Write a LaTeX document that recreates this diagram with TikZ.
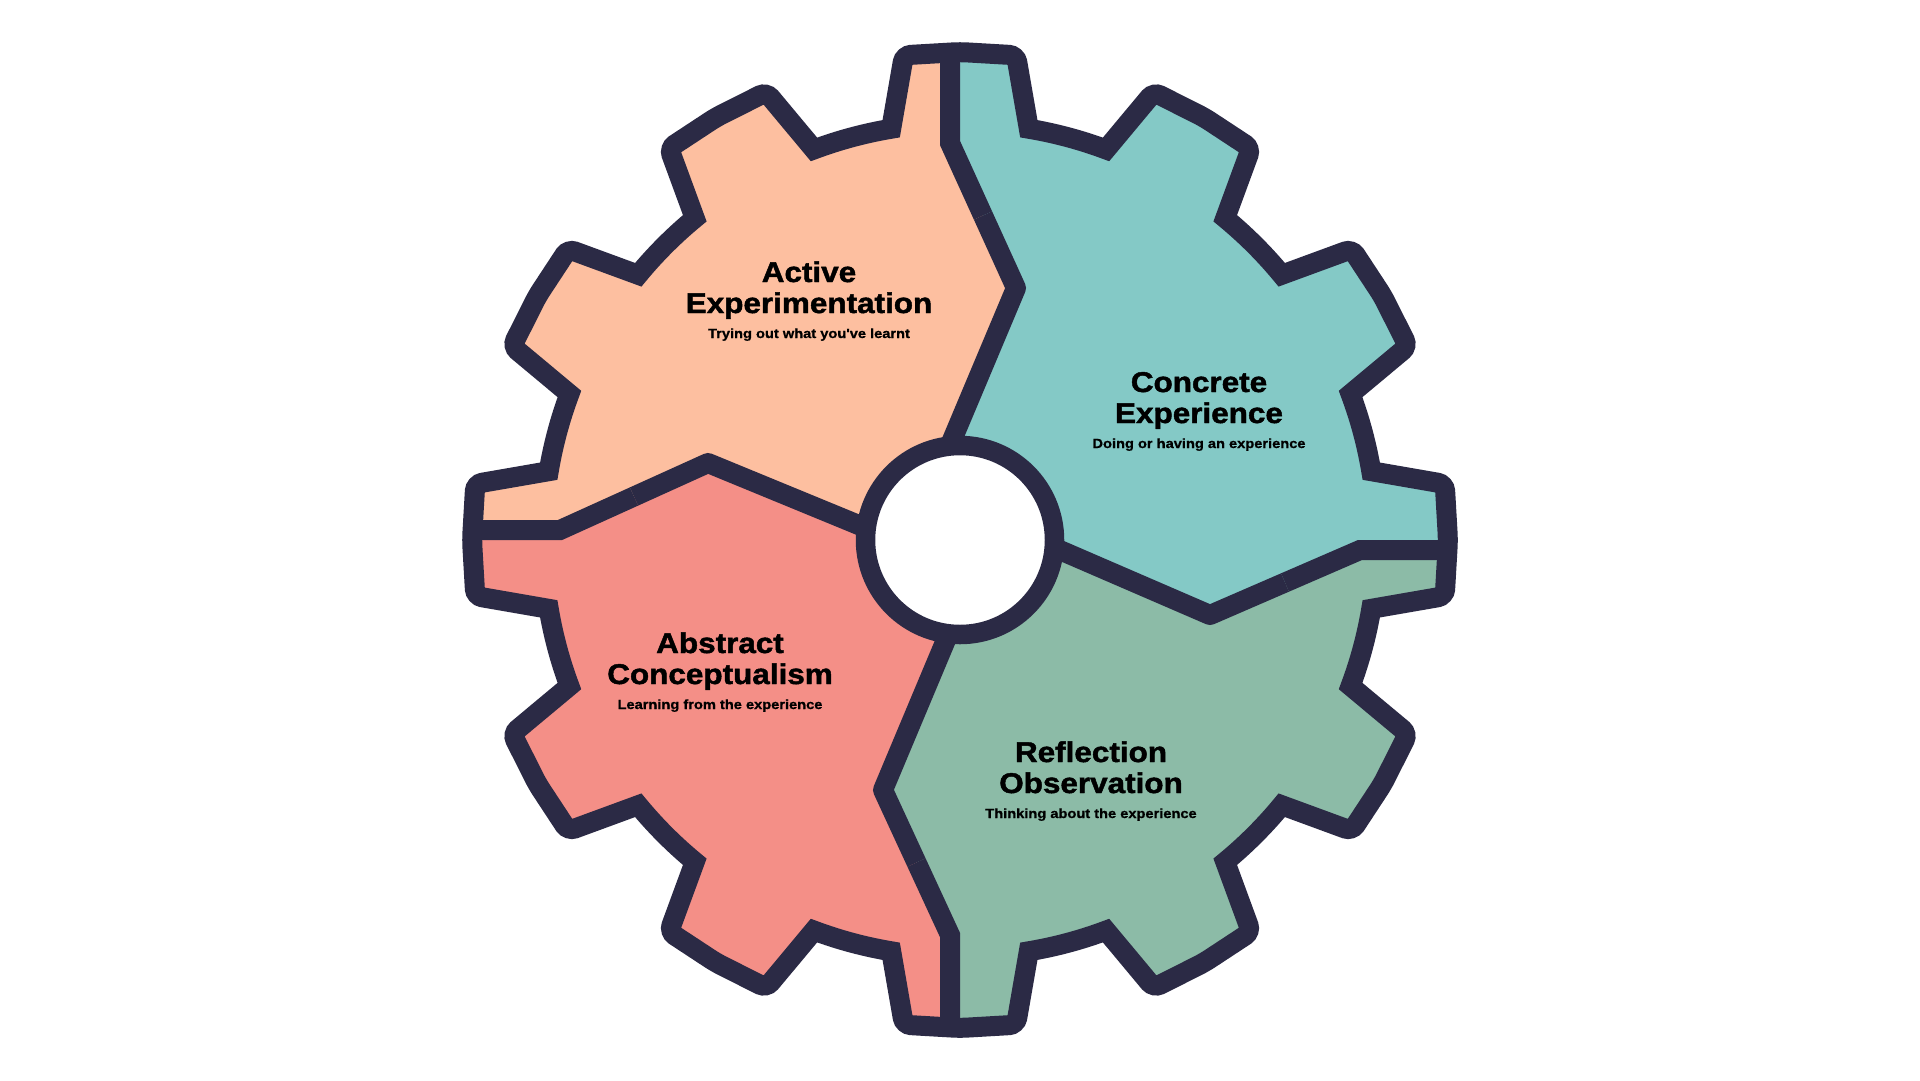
\documentclass[tikz,border=0pt]{standalone}
\usepackage{fontspec}
\newfontfamily\gfont[FakeStretch=1.1, BoldFeatures={FakeBold=1.6}]{Liberation Sans}
\newfontfamily\gsub[FakeStretch=1.1, BoldFeatures={FakeBold=0.8}]{Liberation Sans}
\definecolor{cNavy}{HTML}{2B2A45}
\definecolor{cPeach}{HTML}{FDBFA0}
\definecolor{cTeal}{HTML}{84C9C6}
\definecolor{cSage}{HTML}{8CBBA7}
\definecolor{cSalmon}{HTML}{F48F87}
\tikzset{
  outl/.style={draw=cNavy, line width=20pt},
  divA/.style={draw=cNavy, line width=20pt, line join=miter},
  divB/.style={draw=cNavy, line width=20pt, line join=round},
  ttl/.style={anchor=base, inner sep=0pt, font=\gfont\bfseries\fontsize{28.6}{31}\selectfont, text=black},
  subt/.style={anchor=base, inner sep=0pt, font=\gsub\bfseries\fontsize{13.3}{15}\selectfont, text=black},
}
\def\gearpath{(-9.5:417) \foreach \a in {0,30,...,330}{ [rounded corners=7pt] -- ({\a-6.6}:488) -- (\a:488) -- ({\a+6.6}:488) [sharp corners] -- ({\a+9.5}:417) arc[start angle={\a+9.5}, end angle={\a+20.5}, radius=417]} -- cycle}
\begin{document}
\begin{tikzpicture}[x=1pt, y=-1pt]
\useasboundingbox (0,0) rectangle (1920,1080);
\fill[white] (0,0) rectangle (1920,1080);
% divider points
\coordinate (c) at (960,540);
\coordinate (t0) at (950,52);  \coordinate (t1) at (950,143); \coordinate (tm) at (983,215.5); \coordinate (t2) at (1016,288); \coordinate (t3) at (950,445);
\coordinate (r0) at (1448,550); \coordinate (r1) at (1360,550); \coordinate (rm) at (1285,582.5); \coordinate (r2) at (1210,615); \coordinate (r3) at (1055,548);
\coordinate (b0) at (950,1028); \coordinate (b1) at (950,935); \coordinate (bm) at (916.5,862.5); \coordinate (b2) at (883,790); \coordinate (b3) at (948,635);
\coordinate (l0) at (472,530); \coordinate (l1) at (560,530); \coordinate (lm) at (634,496.5); \coordinate (l2) at (708,463); \coordinate (l3) at (866,528);
% coloured quarters
\begin{scope}
  \clip[shift={(960,540)}] \gearpath;
  \fill[cPeach] (950,0) -- (t1) -- (t2) -- (t3) -- (c) -- (l3) -- (l2) -- (l1) -- (0,530) -- (0,0) -- cycle;
  \fill[cTeal] (950,0) -- (t1) -- (t2) -- (t3) -- (c) -- (r3) -- (r2) -- (r1) -- (1920,550) -- (1920,0) -- cycle;
  \fill[cSage] (1920,550) -- (r1) -- (r2) -- (r3) -- (c) -- (b3) -- (b2) -- (b1) -- (950,1080) -- (1920,1080) -- cycle;
  \fill[cSalmon] (950,1080) -- (b1) -- (b2) -- (b3) -- (c) -- (l3) -- (l2) -- (l1) -- (0,530) -- (0,1080) -- cycle;
\end{scope}
% dividers
\draw[divA] (t0) -- (t1) -- (tm);
\draw[divB] (tm) -- (t2) -- (t3);
\draw[divA] (r0) -- (r1) -- (rm);
\draw[divB] (rm) -- (r2) -- (r3);
\draw[divA] (b0) -- (b1) -- (bm);
\draw[divB] (bm) -- (b2) -- (b3);
\draw[divA] (l0) -- (l1) -- (lm);
\draw[divB] (lm) -- (l2) -- (l3);
% gear outline
\draw[outl, shift={(960,540)}] \gearpath;
% hub
\node[circle, draw=cNavy, line width=19.5pt, fill=white, minimum size=189pt, inner sep=0pt] (hub) at (c) {};
% labels
\node[ttl] (ae1) at (809,282) {Active};
\node[ttl] (ae2) at (809,313) {Experimentation};
\node[subt] (ae3) at (809,338) {Trying out what you've learnt};
\node[ttl] (ce1) at (1199,392) {Concrete};
\node[ttl] (ce2) at (1199,423) {Experience};
\node[subt] (ce3) at (1199,448) {Doing or having an experience};
\node[ttl] (ac1) at (720,653) {Abstract};
\node[ttl] (ac2) at (720,684) {Conceptualism};
\node[subt] (ac3) at (720,709) {Learning from the experience};
\node[ttl] (ro1) at (1091,762) {Reflection};
\node[ttl] (ro2) at (1091,793) {Observation};
\node[subt] (ro3) at (1091,818) {Thinking about the experience};
\end{tikzpicture}
\end{document}
